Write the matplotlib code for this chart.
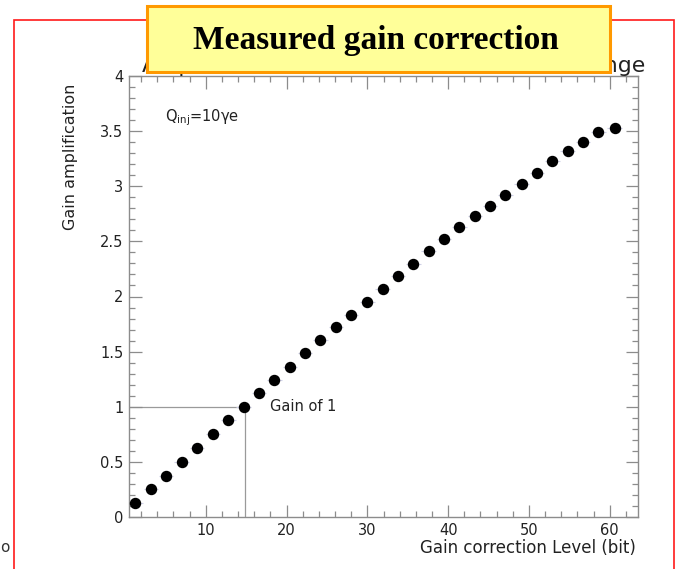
import matplotlib
matplotlib.use("Agg")
import matplotlib.pyplot as plt
from matplotlib.patches import Rectangle
from matplotlib.ticker import MultipleLocator

# Measured points: gain correction level (bit) vs gain amplification
levels = [1.3, 3.2, 5.1, 7.0, 8.9, 10.9, 12.8, 14.7, 16.6, 18.5, 20.4, 22.3,
          24.2, 26.1, 28.0, 30.0, 31.9, 33.8, 35.7, 37.6, 39.5, 41.4, 43.3,
          45.2, 47.1, 49.1, 51.0, 52.9, 54.8, 56.7, 58.6, 60.6]
gain = [0.127, 0.254, 0.375, 0.500, 0.626, 0.753, 0.877, 1.000, 1.123, 1.240,
        1.363, 1.485, 1.608, 1.723, 1.829, 1.950, 2.065, 2.189, 2.295, 2.412,
        2.522, 2.628, 2.727, 2.821, 2.921, 3.017, 3.120, 3.226, 3.317, 3.404,
        3.495, 3.525]

unity_level = 14.85
unity_gain = 1.0

x_limits = (0.5, 63.5)
y_limits = (0.0, 4.0)

W, H = 677, 569
fig = plt.figure(figsize=(W / 100, H / 100), dpi=100)
fig.patch.set_facecolor("white")


def fx(px):
    return px / W


def fy(py):
    return 1 - py / H


# red slide frame
fig.add_artist(Rectangle((fx(14), fy(600)), fx(674) - fx(14), fy(20) - fy(600),
                         transform=fig.transFigure, fill=False,
                         edgecolor="#ff1a1a", linewidth=1.2, zorder=0))

ax = fig.add_axes([fx(129), fy(517), fx(638) - fx(129), fy(76) - fy(517)])
axis_grey = "#8c8c8c"
for s in ax.spines.values():
    s.set_color(axis_grey)
    s.set_linewidth(1.0)

ax.set_xlim(*x_limits)
ax.set_ylim(*y_limits)
ax.xaxis.set_major_locator(MultipleLocator(10))
ax.xaxis.set_minor_locator(MultipleLocator(2))
ax.yaxis.set_major_locator(MultipleLocator(0.5))
ax.yaxis.set_minor_locator(MultipleLocator(0.1))
ax.tick_params(which="both", direction="in", top=True, right=True,
               color=axis_grey, width=0.9)
ax.tick_params(which="major", length=9, labelsize=10.5, labelcolor="#222222", pad=4)
ax.tick_params(which="minor", length=4.5)
ax.yaxis.set_major_formatter(matplotlib.ticker.FuncFormatter(
    lambda v, p: f"{v:g}"))

# unity-gain guide lines
ax.plot([x_limits[0], unity_level], [unity_gain, unity_gain],
        color="#9a9a9a", lw=0.9, zorder=1)
ax.plot([unity_level, unity_level], [y_limits[0], unity_gain],
        color="#9a9a9a", lw=0.9, zorder=1)

ax.errorbar(levels, gain, xerr=0.9, fmt="none", ecolor="#cfd0e6",
            elinewidth=0.8, zorder=2)
ax.plot(levels, gain, "o", color="black", markersize=7.2, zorder=3)

ax.text(17.9, 1.0, "Gain of 1", fontsize=10.5, color="#222222",
        va="center", ha="left")
ax.text(5.0, 3.62, "Q$_{\\rm inj}$=10γe", fontsize=10.5,
        color="#222222", va="center", ha="left")

# axis titles
fig.text(fx(636), fy(548), "Gain correction Level (bit)", fontsize=12,
         color="#222222", ha="right", va="center")
fig.text(fx(70), fy(84), "Gain amplification", fontsize=11.5, color="#222222",
         rotation=90, ha="center", va="top")

# plot title (partly covered by the banner)
title = fig.text(fx(142), fy(72), "Amplification with the whole correction range",
                 fontsize=12, color="#222222", ha="left", va="baseline", zorder=1)
fig.canvas.draw()
bb = title.get_window_extent()
title.set_fontsize(12 * (643 - 142) / bb.width)

# banner
fig.add_artist(Rectangle((fx(147), fy(72)), fx(610) - fx(147), fy(6) - fy(72),
                         transform=fig.transFigure, facecolor="#ffff99",
                         edgecolor="#ff9900", linewidth=2.2, zorder=5))
fig.text(fx(376), fy(40), "Measured gain correction", fontsize=24,
         fontweight="bold", family="Liberation Serif", color="black",
         ha="center", va="center", zorder=6)

fig.text(fx(5), fy(548), "o", fontsize=11, color="#333333",
         ha="center", va="center")

fig.savefig("out.png", dpi=100)
